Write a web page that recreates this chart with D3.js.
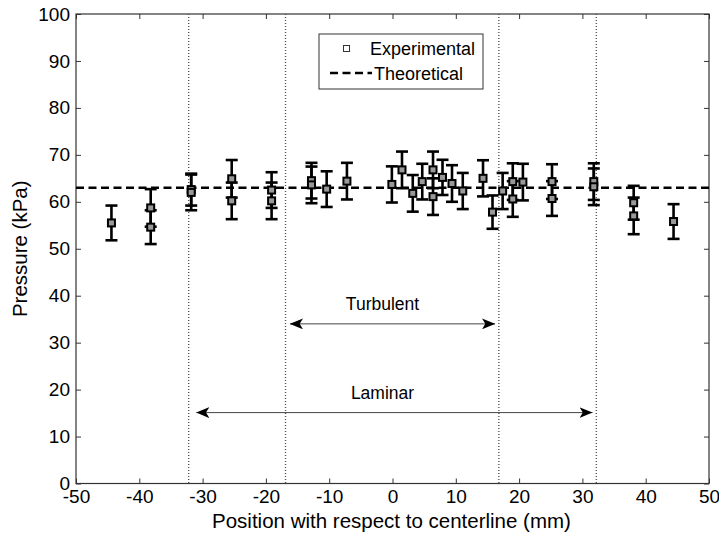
<!DOCTYPE html>
<html>
<head>
<meta charset="utf-8">
<script src="https://cdn.jsdelivr.net/npm/d3@7"></script>
<style>
  body { margin: 0; background: #fff; }
  text { font-family: "Liberation Sans", Arial, sans-serif; fill: #000; }
</style>
</head>
<body>
<div id="chart"></div>
<script>
// measured positions (mm), pressures (kPa) and error half-widths
const positions = [-44.4, -38.2, -38.2, -31.8, -31.8, -25.4, -25.4, -19.1, -19.1, -12.8, -12.8, -10.4, -7.2,
  -0.1, 1.5, 3.2, 4.7, 6.4, 6.4, 7.9, 9.4, 11.1, 14.3, 15.8, 17.4, 19.0, 19.0, 20.6, 25.2, 25.2,
  31.8, 31.8, 38.1, 38.1, 44.4];
const pressures = [55.5, 58.7, 54.6, 62.6, 62.0, 64.9, 60.2, 62.5, 60.2, 64.5, 63.6, 62.7, 64.4,
  63.7, 66.8, 61.8, 64.3, 66.8, 61.1, 65.2, 63.9, 62.3, 65.0, 57.8, 62.3, 64.3, 60.6, 64.2, 64.3, 60.7,
  64.3, 63.2, 59.8, 57.0, 55.8];
const errors = [3.7, 4.0, 3.6, 3.4, 3.8, 4.0, 3.9, 3.8, 3.9, 3.8, 3.9, 3.8, 3.9,
  3.85, 3.9, 3.9, 3.8, 3.9, 3.9, 3.75, 3.9, 3.85, 3.85, 3.55, 3.85, 3.9, 3.8, 3.9, 3.7, 3.7,
  3.9, 3.9, 3.6, 3.9, 3.7];

const theoretical = 63;
const boundaries = [-32.2, -16.9, 16.8, 32.2];   // dotted vertical lines
const regions = [
  { name: 'Turbulent', from: -16.2, to: 16.2, y: 34, labelY: 37 },
  { name: 'Laminar', from: -31.0, to: 31.6, y: 15.1, labelY: 18 }
];
const xTicks = d3.range(-50, 51, 10);
const yTicks = d3.range(0, 101, 10);

const W = 719, H = 533;
const margin = { top: 14, right: 10, bottom: 49.5, left: 76 };
const width = W - margin.left - margin.right;
const height = H - margin.top - margin.bottom;

const svg = d3.select('#chart').append('svg')
  .attr('width', W).attr('height', H);

svg.append('defs').append('marker')
  .attr('id', 'arrow')
  .attr('viewBox', '0 0 12 10')
  .attr('refX', 12).attr('refY', 5)
  .attr('markerWidth', 13).attr('markerHeight', 11)
  .attr('markerUnits', 'userSpaceOnUse')
  .attr('orient', 'auto-start-reverse')
  .append('path')
  .attr('d', 'M0,0 L12,5 L0,10 L3,5 Z')
  .attr('fill', '#000');

const g = svg.append('g').attr('transform', `translate(${margin.left},${margin.top})`);

const x = d3.scaleLinear().domain([-50, 50]).range([0, width]);
const y = d3.scaleLinear().domain([0, 100]).range([height, 0]);

// axes (ticks inward, MATLAB style box)
const axisColor = '#333';
const tickFont = '19px';
function styleAxis(sel, showText) {
  sel.select('.domain').remove();
  sel.selectAll('line').attr('stroke', axisColor);
  sel.selectAll('text').style('font-size', tickFont).attr('fill', '#000');
  if (!showText) sel.selectAll('text').remove();
}
const fmt = d => String(d);   // plain hyphen minus like the original
g.append('g').attr('transform', `translate(0,${height})`)
  .call(d3.axisBottom(x).tickValues(xTicks).tickFormat(fmt).tickSizeInner(-5).tickSizeOuter(0).tickPadding(6))
  .call(s => styleAxis(s, true));
g.append('g')
  .call(d3.axisTop(x).tickValues(xTicks).tickSizeInner(-5).tickSizeOuter(0))
  .call(s => styleAxis(s, false));
g.append('g')
  .call(d3.axisLeft(y).tickValues(yTicks).tickFormat(fmt).tickSizeInner(-5).tickSizeOuter(0).tickPadding(6))
  .call(s => styleAxis(s, true));
g.append('g').attr('transform', `translate(${width},0)`)
  .call(d3.axisRight(y).tickValues(yTicks).tickSizeInner(-5).tickSizeOuter(0))
  .call(s => styleAxis(s, false));
g.append('rect')
  .attr('width', width).attr('height', height)
  .attr('fill', 'none').attr('stroke', axisColor).attr('stroke-width', 1.2);

// dotted boundaries
g.selectAll('.bound').data(boundaries).enter().append('line')
  .attr('x1', d => x(d)).attr('x2', d => x(d))
  .attr('y1', 0).attr('y2', height)
  .attr('stroke', '#555').attr('stroke-width', 1.4)
  .attr('stroke-dasharray', '1,2');

// theoretical line
g.append('line')
  .attr('x1', 0).attr('x2', width)
  .attr('y1', y(theoretical)).attr('y2', y(theoretical))
  .attr('stroke', '#000').attr('stroke-width', 2.6)
  .attr('stroke-dasharray', '8,4.5');

// region arrows
regions.forEach(r => {
  g.append('line')
    .attr('x1', x(r.from)).attr('x2', x(r.to))
    .attr('y1', y(r.y)).attr('y2', y(r.y))
    .attr('stroke', '#444').attr('stroke-width', 1)
    .attr('marker-start', 'url(#arrow)')
    .attr('marker-end', 'url(#arrow)');
  g.append('text')
    .attr('x', x(0) - 10).attr('y', y(r.labelY))
    .attr('text-anchor', 'middle')
    .style('font-size', '17.5px')
    .text(r.name);
});

// error bars
const data = positions.map((p, i) => ({ x: p, y: pressures[i], e: errors[i] }));
const cap = 6;
const bars = g.selectAll('.err').data(data).enter().append('g').attr('class', 'err')
  .attr('stroke', '#000').attr('stroke-width', 2.6);
bars.append('line')
  .attr('x1', d => x(d.x)).attr('x2', d => x(d.x))
  .attr('y1', d => y(d.y - d.e)).attr('y2', d => y(d.y + d.e));
bars.append('line')
  .attr('x1', d => x(d.x) - cap).attr('x2', d => x(d.x) + cap)
  .attr('y1', d => y(d.y + d.e)).attr('y2', d => y(d.y + d.e));
bars.append('line')
  .attr('x1', d => x(d.x) - cap).attr('x2', d => x(d.x) + cap)
  .attr('y1', d => y(d.y - d.e)).attr('y2', d => y(d.y - d.e));
g.selectAll('.pt').data(data).enter().append('rect')
  .attr('x', d => x(d.x) - 3.5).attr('y', d => y(d.y) - 3.5)
  .attr('width', 7).attr('height', 7)
  .attr('fill', '#999').attr('stroke', '#000').attr('stroke-width', 2);

// legend
const lg = svg.append('g').attr('transform', 'translate(319,34)');
lg.append('rect').attr('width', 164).attr('height', 55)
  .attr('fill', '#fff').attr('stroke', '#333').attr('stroke-width', 1);
lg.append('rect').attr('x', 24.5).attr('y', 11.5).attr('width', 6).attr('height', 6)
  .attr('fill', 'none').attr('stroke', '#333').attr('stroke-width', 1);
lg.append('text').attr('x', 51).attr('y', 21).style('font-size', '18px').text('Experimental');
lg.append('line').attr('x1', 11).attr('x2', 53).attr('y1', 39).attr('y2', 39)
  .attr('stroke', '#000').attr('stroke-width', 2.6).attr('stroke-dasharray', '8,4.5');
lg.append('text').attr('x', 55).attr('y', 45.5).style('font-size', '18px').text('Theoretical');

// axis titles
svg.append('text')
  .attr('x', margin.left + width / 2 - 1).attr('y', 528)
  .attr('text-anchor', 'middle').style('font-size', '20.5px')
  .text('Position with respect to centerline (mm)');
svg.append('text')
  .attr('transform', `translate(27,${margin.top + height / 2}) rotate(-90)`)
  .attr('text-anchor', 'middle').style('font-size', '20.5px')
  .text('Pressure (kPa)');
</script>
</body>
</html>
